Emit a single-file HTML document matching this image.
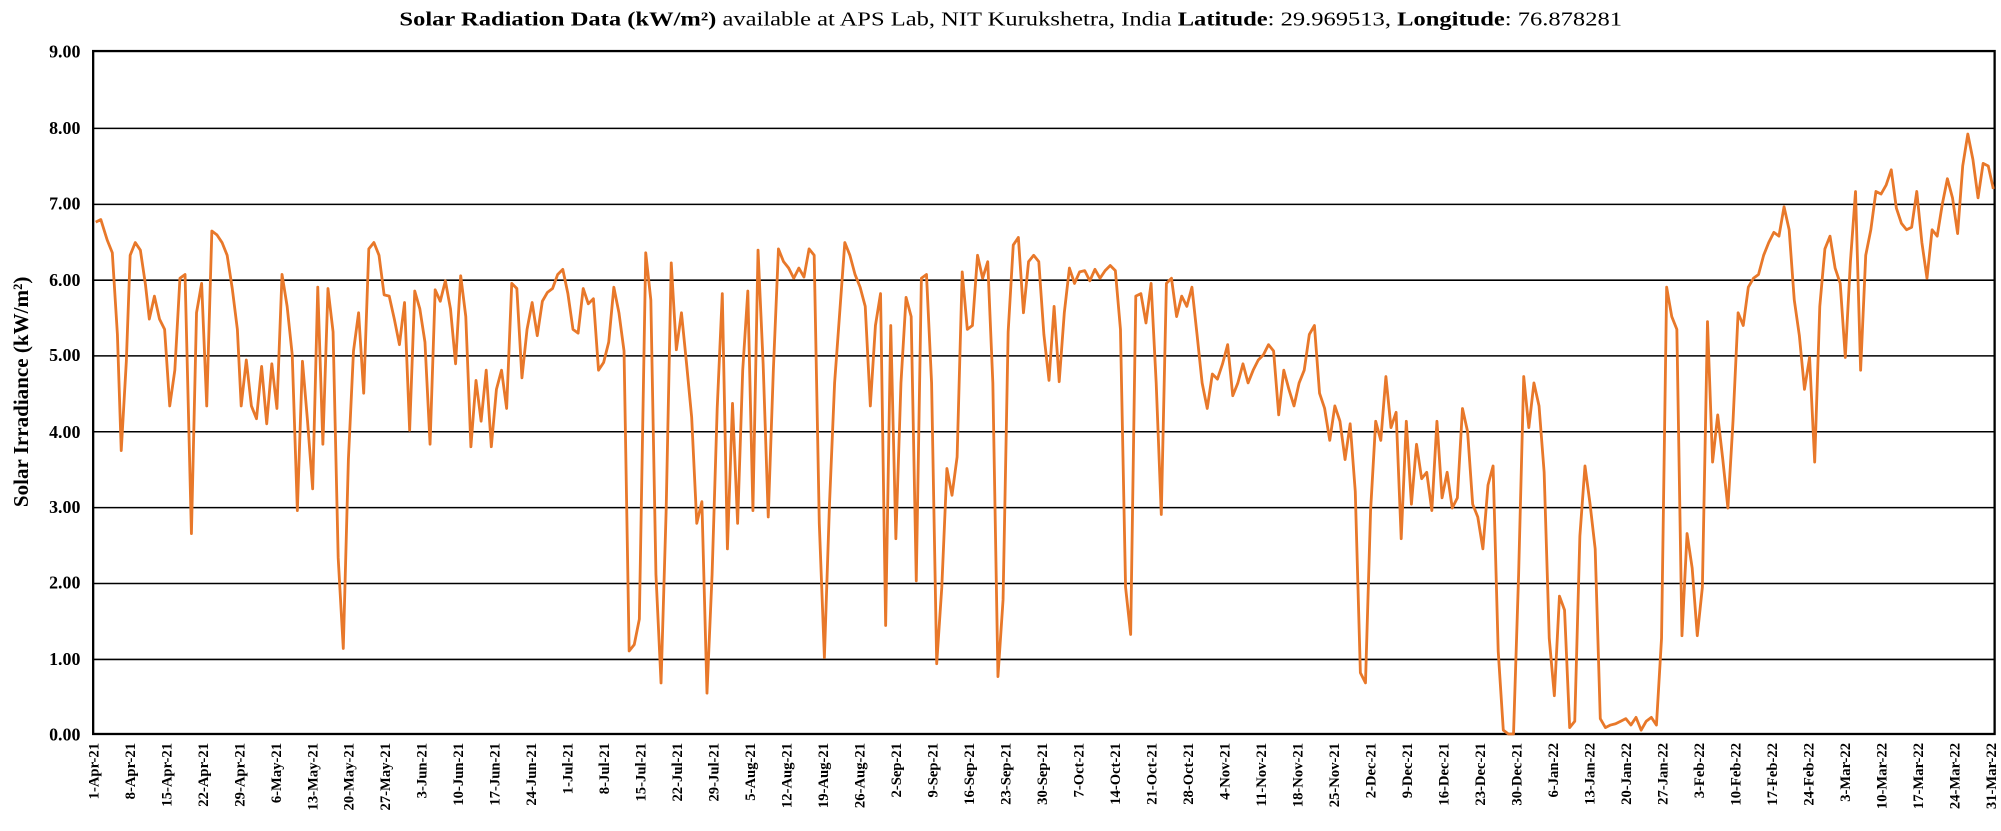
<!DOCTYPE html>
<html><head><meta charset="utf-8"><style>
html,body{margin:0;padding:0;background:#fff;}
svg{display:block;}
text{font-family:"Liberation Serif",serif;fill:#000;}
</style></head><body>
<svg width="2001" height="831" viewBox="0 0 1568 651" preserveAspectRatio="none" xmlns="http://www.w3.org/2000/svg">
<rect width="1568" height="651" fill="#fff"/>
<text x="792" y="20" font-size="15.5" text-anchor="middle" textLength="958" lengthAdjust="spacingAndGlyphs"><tspan font-weight="bold">Solar Radiation Data (kW/m²)</tspan> available at APS Lab, NIT Kurukshetra, India  <tspan font-weight="bold">Latitude</tspan>: 29.969513, <tspan font-weight="bold">Longitude</tspan>: 76.878281</text>
<g stroke="#000" stroke-width="1.2">
<line x1="73" x2="1563" y1="100.6" y2="100.6"/>
<line x1="73" x2="1563" y1="160.1" y2="160.1"/>
<line x1="73" x2="1563" y1="219.5" y2="219.5"/>
<line x1="73" x2="1563" y1="278.8" y2="278.8"/>
<line x1="73" x2="1563" y1="338.2" y2="338.2"/>
<line x1="73" x2="1563" y1="397.7" y2="397.7"/>
<line x1="73" x2="1563" y1="457.1" y2="457.1"/>
<line x1="73" x2="1563" y1="516.6" y2="516.6"/>
</g>
<rect x="73" y="40" width="1490" height="535" fill="none" stroke="#000" stroke-width="1.8"/>
<g font-size="14" font-weight="bold" text-anchor="end">
<text x="63" y="45">9.00</text><text x="63" y="105">8.00</text><text x="63" y="164">7.00</text><text x="63" y="224">6.00</text><text x="63" y="283">5.00</text><text x="63" y="343">4.00</text><text x="63" y="402">3.00</text><text x="63" y="461">2.00</text><text x="63" y="521">1.00</text><text x="63" y="580">0.00</text>
</g>
<text transform="translate(22,307) rotate(-90)" font-size="16.5" font-weight="bold" text-anchor="middle">Solar Irradiance (kW/m²)</text>
<polyline fill="none" stroke="#E8782A" stroke-width="2.2" stroke-linejoin="round" points="75,174 79,172 84,188 88,198 92,262 95,353 99,283 102,200 106,190 110,196 114,223 117,250 121,232 125,250 129,258 133,318 137,290 141,218 145,215 150,418 154,245 158,222 162,318 166,181 170,184 174,190 178,200 182,226 186,258 189,318 193,282 197,318 201,328 205,287 209,332 213,285 217,320 221,215 225,240 229,278 233,400 237,283 241,330 245,383 249,225 253,348 257,226 261,260 265,437 269,508 273,360 277,275 281,245 285,308 289,195 293,190 297,200 301,231 305,232 309,250 313,270 317,237 321,337 325,228 329,242 333,268 337,348 341,227 345,236 349,220 353,242 357,285 361,216 365,248 369,350 373,298 377,330 381,290 385,350 389,305 393,290 397,320 401,222 405,226 409,296 413,258 417,237 421,263 425,236 429,229 433,226 437,215 441,211 445,230 449,258 453,261 457,226 461,238 465,234 469,290 473,284 477,268 481,225 485,245 489,275 493,510 497,505 501,485 506,198 510,235 514,450 518,535 522,400 526,206 530,274 534,245 538,285 542,327 546,410 550,393 554,543 558,450 562,320 566,230 570,430 574,316 578,410 582,290 586,228 590,400 594,196 598,285 602,405 606,290 610,195 614,205 618,210 622,218 626,210 630,217 634,195 638,200 642,410 646,515 650,395 654,300 658,245 662,190 666,200 670,215 674,225 678,240 682,318 686,255 690,230 694,490 698,255 702,422 706,300 710,233 714,248 718,455 722,218 726,215 730,300 734,520 738,460 742,367 746,388 750,358 754,213 758,258 762,255 766,200 770,218 774,205 778,300 782,530 786,470 790,260 794,192 798,186 802,245 806,205 810,200 814,205 818,262 822,298 826,240 830,299 834,245 838,210 842,222 846,213 850,212 854,220 858,211 862,218 866,212 870,208 874,212 878,258 882,460 886,497 890,232 894,230 898,253 902,222 906,300 910,403 914,222 918,218 922,248 926,232 930,240 934,225 938,262 942,300 946,320 950,293 954,297 958,285 962,270 966,310 970,300 974,285 978,300 982,290 986,282 990,278 994,270 998,275 1002,325 1006,290 1010,305 1014,318 1018,300 1022,290 1026,262 1030,255 1034,308 1038,320 1042,345 1046,318 1050,330 1054,360 1058,332 1062,385 1066,527 1070,535 1074,400 1078,330 1082,345 1086,295 1090,335 1094,323 1098,422 1102,330 1106,395 1110,348 1114,375 1118,370 1122,400 1126,330 1130,390 1134,370 1138,398 1142,390 1146,320 1150,338 1154,395 1158,405 1162,430 1166,380 1170,365 1174,510 1178,572 1182,575 1186,575 1190,450 1194,295 1198,335 1202,300 1206,318 1210,370 1214,500 1218,545 1222,467 1226,478 1230,570 1234,565 1238,420 1242,365 1246,395 1250,430 1254,563 1258,570 1262,568 1266,567 1270,565 1274,563 1278,568 1282,562 1286,572 1290,565 1294,562 1298,568 1302,500 1306,225 1310,248 1314,258 1318,498 1322,418 1326,445 1330,498 1334,460 1338,252 1342,362 1346,325 1350,360 1354,398 1358,330 1362,245 1366,255 1370,225 1374,218 1378,215 1382,200 1386,190 1390,182 1394,185 1398,162 1402,180 1406,235 1410,263 1414,305 1418,280 1422,362 1426,240 1430,195 1434,185 1438,210 1442,222 1446,280 1450,205 1454,150 1458,290 1462,200 1466,180 1470,150 1474,152 1478,145 1482,133 1486,163 1490,175 1494,180 1498,178 1502,150 1506,190 1510,218 1514,180 1518,185 1522,160 1526,140 1530,155 1534,183 1538,130 1542,105 1546,125 1550,155 1554,128 1558,130 1562,148"/>
<g font-size="11.5" font-weight="bold" text-anchor="end">
<text transform="translate(77,582) rotate(-90)">1-Apr-21</text>
<text transform="translate(105.6,582) rotate(-90)">8-Apr-21</text>
<text transform="translate(134.2,582) rotate(-90)">15-Apr-21</text>
<text transform="translate(162.8,582) rotate(-90)">22-Apr-21</text>
<text transform="translate(191.4,582) rotate(-90)">29-Apr-21</text>
<text transform="translate(220,582) rotate(-90)">6-May-21</text>
<text transform="translate(248.6,582) rotate(-90)">13-May-21</text>
<text transform="translate(277.2,582) rotate(-90)">20-May-21</text>
<text transform="translate(305.8,582) rotate(-90)">27-May-21</text>
<text transform="translate(334.4,582) rotate(-90)">3-Jun-21</text>
<text transform="translate(363,582) rotate(-90)">10-Jun-21</text>
<text transform="translate(391.6,582) rotate(-90)">17-Jun-21</text>
<text transform="translate(420.2,582) rotate(-90)">24-Jun-21</text>
<text transform="translate(448.8,582) rotate(-90)">1-Jul-21</text>
<text transform="translate(477.4,582) rotate(-90)">8-Jul-21</text>
<text transform="translate(506,582) rotate(-90)">15-Jul-21</text>
<text transform="translate(534.6,582) rotate(-90)">22-Jul-21</text>
<text transform="translate(563.2,582) rotate(-90)">29-Jul-21</text>
<text transform="translate(591.8,582) rotate(-90)">5-Aug-21</text>
<text transform="translate(620.4,582) rotate(-90)">12-Aug-21</text>
<text transform="translate(649,582) rotate(-90)">19-Aug-21</text>
<text transform="translate(677.6,582) rotate(-90)">26-Aug-21</text>
<text transform="translate(706.2,582) rotate(-90)">2-Sep-21</text>
<text transform="translate(734.8,582) rotate(-90)">9-Sep-21</text>
<text transform="translate(763.4,582) rotate(-90)">16-Sep-21</text>
<text transform="translate(792,582) rotate(-90)">23-Sep-21</text>
<text transform="translate(820.6,582) rotate(-90)">30-Sep-21</text>
<text transform="translate(849.2,582) rotate(-90)">7-Oct-21</text>
<text transform="translate(877.8,582) rotate(-90)">14-Oct-21</text>
<text transform="translate(906.4,582) rotate(-90)">21-Oct-21</text>
<text transform="translate(935,582) rotate(-90)">28-Oct-21</text>
<text transform="translate(963.6,582) rotate(-90)">4-Nov-21</text>
<text transform="translate(992.2,582) rotate(-90)">11-Nov-21</text>
<text transform="translate(1020.8,582) rotate(-90)">18-Nov-21</text>
<text transform="translate(1049.4,582) rotate(-90)">25-Nov-21</text>
<text transform="translate(1078,582) rotate(-90)">2-Dec-21</text>
<text transform="translate(1106.6,582) rotate(-90)">9-Dec-21</text>
<text transform="translate(1135.2,582) rotate(-90)">16-Dec-21</text>
<text transform="translate(1163.8,582) rotate(-90)">23-Dec-21</text>
<text transform="translate(1192.4,582) rotate(-90)">30-Dec-21</text>
<text transform="translate(1221,582) rotate(-90)">6-Jan-22</text>
<text transform="translate(1249.6,582) rotate(-90)">13-Jan-22</text>
<text transform="translate(1278.2,582) rotate(-90)">20-Jan-22</text>
<text transform="translate(1306.8,582) rotate(-90)">27-Jan-22</text>
<text transform="translate(1335.4,582) rotate(-90)">3-Feb-22</text>
<text transform="translate(1364,582) rotate(-90)">10-Feb-22</text>
<text transform="translate(1392.6,582) rotate(-90)">17-Feb-22</text>
<text transform="translate(1421.2,582) rotate(-90)">24-Feb-22</text>
<text transform="translate(1449.8,582) rotate(-90)">3-Mar-22</text>
<text transform="translate(1478.4,582) rotate(-90)">10-Mar-22</text>
<text transform="translate(1507,582) rotate(-90)">17-Mar-22</text>
<text transform="translate(1535.6,582) rotate(-90)">24-Mar-22</text>
<text transform="translate(1564.2,582) rotate(-90)">31-Mar-22</text>
</g>
</svg>
</body></html>
